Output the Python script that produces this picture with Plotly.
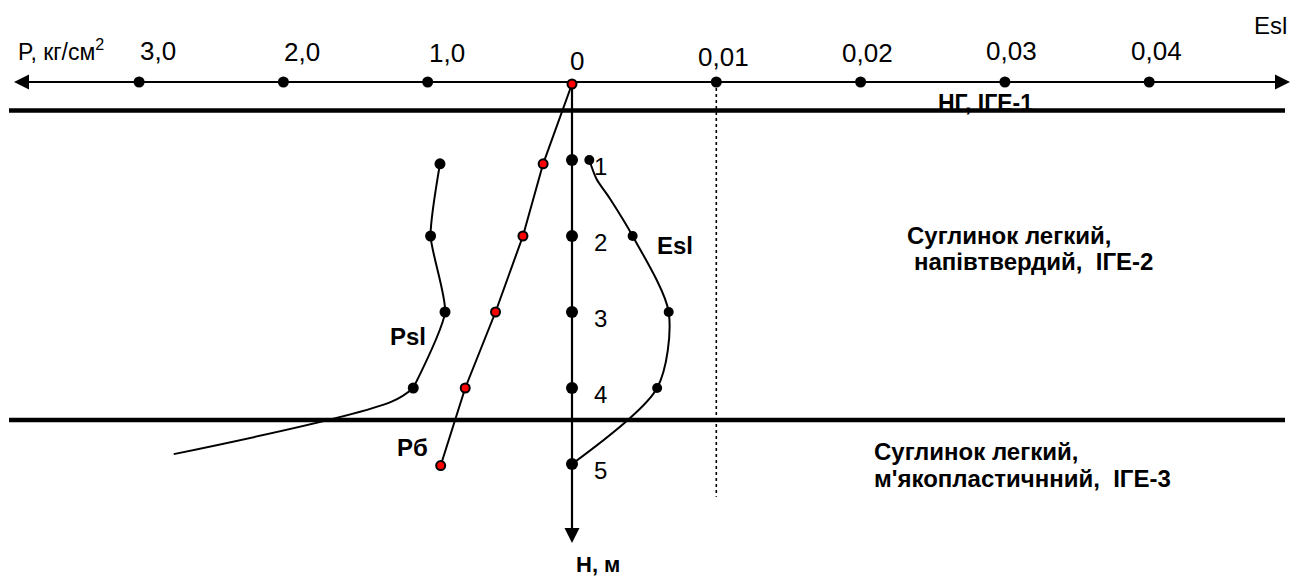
import plotly.graph_objects as go

# ---------------- data ----------------
P_ticks = [3.0, 2.0, 1.0]
P_tick_labels = ["3,0", "2,0", "1,0"]
Esl_ticks = [0.01, 0.02, 0.03, 0.04]
Esl_tick_labels = ["0,01", "0,02", "0,03", "0,04"]

depths = [1, 2, 3, 4, 5]
depth_labels = ["1", "2", "3", "4", "5"]

# Psl (kg/cm2) measured points
Psl_depth = [1.05, 2.0, 3.0, 4.0]
Psl_vals = [0.915, 0.98, 0.88, 1.10]
# Psl curve continuation below the last point
Psl_tail_depth = [4.0, 4.18, 4.87]
Psl_tail_vals = [1.10, 1.25, 2.76]

# Pб (kg/cm2)
Pb_depth = [0.0, 1.05, 2.0, 3.0, 4.0, 5.02]
Pb_vals = [0.0, 0.20, 0.34, 0.53, 0.74, 0.91]

# Esl measured points
Esl_depth = [1.0, 2.0, 3.0, 4.0, 5.0]
Esl_vals = [0.0012, 0.0042, 0.0067, 0.0059, 0.0]
# Esl curve (with intermediate points of the S-bend)
Esl_curve_depth = [1.0, 1.25, 1.5, 2.0, 3.0, 4.0, 5.0]
Esl_curve_vals = [0.0012, 0.0017, 0.0026, 0.0042, 0.0067, 0.0059, 0.0]

layer_bounds = [0.35, 4.42]       # НГ level and ІГЕ-2 / ІГЕ-3 boundary, m
Esl_ref = 0.01                    # dotted reference line
Esl_ref_depth = 5.43

# ---------------- geometry ----------------
W, H = 1290, 579
PX0, PXU = 572.0, 144.3   # pixel of zero, pixels per unit (1 kg/cm2 or 0.01 Esl)
PY0, PYU = 84.0, 76.0     # pixel of depth 0, pixels per metre


def ux(px):
    return (px - PX0) / PXU


def uy(py):
    return (py - PY0) / PYU


def esl_u(v):
    return v * 100.0


def p_u(v):
    return -v


AXIS_Y = uy(82)
FONT = "Liberation Sans, Arial, sans-serif"
fig = go.Figure()

# horizontal axis line
fig.add_trace(go.Scatter(x=[ux(18), ux(1284)], y=[AXIS_Y, AXIS_Y], mode="lines",
                         line=dict(color="black", width=2.2), hoverinfo="skip"))
# vertical axis line
fig.add_trace(go.Scatter(x=[0, 0], y=[0, uy(530)], mode="lines",
                         line=dict(color="black", width=2.2), hoverinfo="skip"))

# tick dots on horizontal axis
fig.add_trace(go.Scatter(x=[p_u(v) for v in P_ticks] + [esl_u(v) for v in Esl_ticks],
                         y=[AXIS_Y] * (len(P_ticks) + len(Esl_ticks)), mode="markers",
                         marker=dict(color="black", size=11), hoverinfo="skip"))
# depth dots on vertical axis
fig.add_trace(go.Scatter(x=[0] * len(depths), y=depths, mode="markers",
                         marker=dict(color="black", size=12), hoverinfo="skip"))

# dotted reference line Esl = 0.01
fig.add_trace(go.Scatter(x=[esl_u(Esl_ref)] * 2, y=[AXIS_Y, Esl_ref_depth], mode="lines",
                         line=dict(color="black", width=1.6, dash="dot"), hoverinfo="skip"))

# Psl
fig.add_trace(go.Scatter(x=[p_u(v) for v in Psl_vals], y=Psl_depth, mode="lines",
                         line=dict(color="black", width=2, shape="spline", smoothing=0.6),
                         hoverinfo="skip"))
fig.add_trace(go.Scatter(x=[p_u(v) for v in Psl_tail_vals], y=Psl_tail_depth, mode="lines",
                         line=dict(color="black", width=2, shape="spline", smoothing=1.0),
                         hoverinfo="skip"))
fig.add_trace(go.Scatter(x=[p_u(v) for v in Psl_vals], y=Psl_depth, mode="markers",
                         marker=dict(color="black", size=11), hoverinfo="skip"))

# Pб
fig.add_trace(go.Scatter(x=[p_u(v) for v in Pb_vals], y=Pb_depth, mode="lines+markers",
                         line=dict(color="black", width=2),
                         marker=dict(color="#ff0000", size=9, line=dict(color="black", width=2)),
                         hoverinfo="skip"))

# Esl
fig.add_trace(go.Scatter(x=[esl_u(v) for v in Esl_curve_vals], y=Esl_curve_depth, mode="lines",
                         line=dict(color="black", width=2, shape="spline", smoothing=0.8),
                         hoverinfo="skip"))
fig.add_trace(go.Scatter(x=[esl_u(v) for v in Esl_vals[:-1]], y=Esl_depth[:-1], mode="markers",
                         marker=dict(color="black", size=10), hoverinfo="skip"))

# "НГ, ІГЕ-1" drawn as a trace so the boundary line passes over its bottom, as in the original
fig.add_trace(go.Scatter(x=[ux(938)], y=[uy(105)], mode="text", text=["<b>НГ, ІГЕ-1</b>"],
                         textposition="middle right",
                         textfont=dict(family=FONT, size=23, color="black"), hoverinfo="skip"))

# layer boundaries
shapes = []
for d in layer_bounds:
    shapes.append(dict(type="line", xref="x", yref="y", x0=ux(9), x1=ux(1285), y0=d, y1=d,
                       line=dict(color="black", width=4.5), layer="above"))

ann = []


def txt(x, y, s, size=24, bold=False, xanchor="center", xshift=0, yshift=0):
    ann.append(dict(x=x, y=y, xref="x", yref="y", text=("<b>%s</b>" % s) if bold else s,
                    showarrow=False, xanchor=xanchor, yanchor="middle",
                    xshift=xshift, yshift=yshift,
                    font=dict(family=FONT, size=size, color="black")))


# arrows
for (tx, ty, sx, sy) in [(ux(14), AXIS_Y, ux(40), AXIS_Y),
                         (ux(1290), AXIS_Y, ux(1260), AXIS_Y),
                         (0, uy(543), 0, uy(515))]:
    ann.append(dict(x=tx, y=ty, ax=sx, ay=sy, xref="x", yref="y", axref="x", ayref="y",
                    text="", showarrow=True, arrowhead=2, arrowsize=1.5, arrowwidth=2,
                    arrowcolor="black"))

# tick labels
P_label_py = [51, 52, 52.5]
for v, s, py in zip(P_ticks, P_tick_labels, P_label_py):
    txt(p_u(v), uy(py), s, size=26, xshift=19)
txt(0, uy(61), "0", size=26, xshift=5)
Esl_label_py = [56.5, 53, 51, 51]
for v, s, py in zip(Esl_ticks, Esl_tick_labels, Esl_label_py):
    txt(esl_u(v), uy(py), s, size=26, xshift=7)

txt(ux(16), uy(50), "P, кг/см<sup>2</sup>", size=23, xanchor="left")
txt(ux(1270), uy(25), "Esl", size=24)

# depth labels
for d, s in zip(depths, depth_labels):
    txt(0, d, s, size=24, xshift=28, yshift=-6)

# curve labels
txt(ux(675), uy(245), "Esl", size=24, bold=True)
txt(ux(408), uy(336), "Psl", size=24, bold=True)
txt(ux(412), uy(447), "Pб", size=24, bold=True)
txt(ux(598), uy(564), "Н, м", size=22, bold=True)

# soil labels
txt(ux(905), uy(235), "Суглинок легкий,", size=24, bold=True, xanchor="left")
txt(ux(912), uy(261), "напівтвердий,  ІГЕ-2", size=24, bold=True, xanchor="left")
txt(ux(872), uy(451), "Суглинок легкий,", size=24, bold=True, xanchor="left")
txt(ux(872), uy(478), "м'якопластичнний,  ІГЕ-3", size=24, bold=True, xanchor="left")

fig.update_layout(
    width=W, height=H, margin=dict(l=0, r=0, t=0, b=0),
    paper_bgcolor="white", plot_bgcolor="white", showlegend=False,
    shapes=shapes, annotations=ann,
    xaxis=dict(range=[ux(0), ux(W)], visible=False, fixedrange=True),
    yaxis=dict(range=[uy(H), uy(0)], visible=False, fixedrange=True),
)

fig.write_html("out.html", config={"displayModeBar": False},
               post_script="document.body.style.margin='0';document.body.style.overflow='hidden';")
